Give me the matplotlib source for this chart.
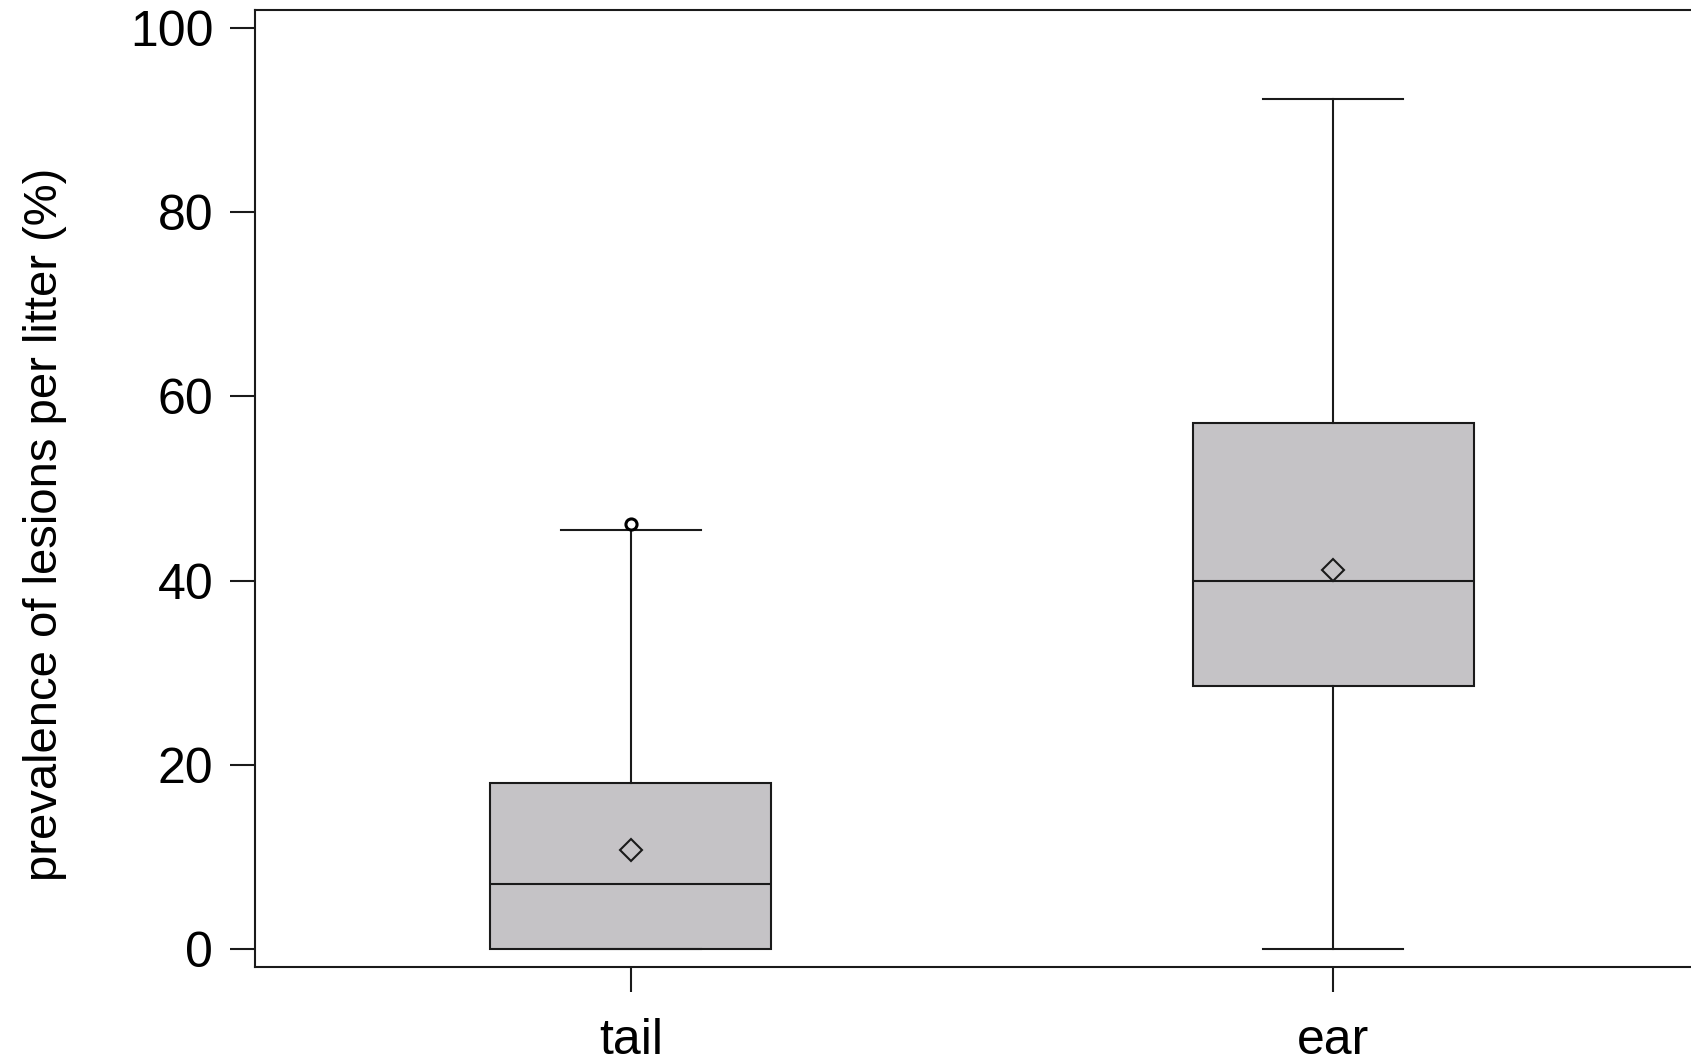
import matplotlib
matplotlib.use("Agg")
import matplotlib.pyplot as plt

plt.rcParams['font.family'] = ['Liberation Sans', 'DejaVu Sans']

categories = ["tail", "ear"]
whis_low = [0.0, 0.0]
q1 = [0.0, 28.5]
medians = [7.0, 39.9]
q3 = [18.05, 57.1]
whis_high = [45.5, 92.3]
means = [10.7, 41.1]
outliers = [[46.1], []]
yticks = [0, 20, 40, 60, 80, 100]

W, H = 1691, 1062
fig = plt.figure(figsize=(W / 100, H / 100), dpi=100)
left_px, right_px, top_px, bottom_px = 255, 1709, 10, 967
ax = fig.add_axes([left_px / W, 1 - bottom_px / H, (right_px - left_px) / W, (bottom_px - top_px) / H])

stats = []
for i, c in enumerate(categories):
    stats.append(dict(label=c, whislo=whis_low[i], q1=q1[i], med=medians[i], q3=q3[i],
                      whishi=whis_high[i], mean=means[i], fliers=outliers[i]))

lw = 1.5
ax.bxp(stats, positions=[1, 2], widths=0.4, patch_artist=True, showmeans=True,
       boxprops=dict(facecolor='#c5c3c6', edgecolor='#1a1a1a', linewidth=lw),
       medianprops=dict(color='#1a1a1a', linewidth=lw),
       whiskerprops=dict(color='#1a1a1a', linewidth=lw),
       capprops=dict(color='#1a1a1a', linewidth=lw),
       capwidths=0.2,
       meanprops=dict(marker='D', markersize=11, markerfacecolor='#c5c3c6',
                      markeredgecolor='#1a1a1a', markeredgewidth=1.5),
       flierprops=dict(marker='o', markersize=8, markerfacecolor='white',
                       markeredgecolor='black', markeredgewidth=2.2))

ax.set_xlim(0.465, 2.535)
ax.set_ylim(-2, 102)
ax.set_yticks(yticks)
ax.set_yticklabels([str(t) for t in yticks])
ax.set_xticks([1, 2])
ax.set_xticklabels(categories)
ax.spines['right'].set_visible(False)
for s in ['left', 'top', 'bottom']:
    ax.spines[s].set_linewidth(1.5)
    ax.spines[s].set_color('#1a1a1a')
ax.tick_params(axis='both', length=18, width=1.5, color='#1a1a1a', labelsize=36, labelcolor='black')
ax.tick_params(axis='y', pad=12)
ax.tick_params(axis='x', pad=19)
ax.set_ylabel("prevalence of lesions per litter (%)", fontsize=34)
ax.yaxis.set_label_coords(-0.129, 0.463)

fig.savefig("out.png", dpi=100)
